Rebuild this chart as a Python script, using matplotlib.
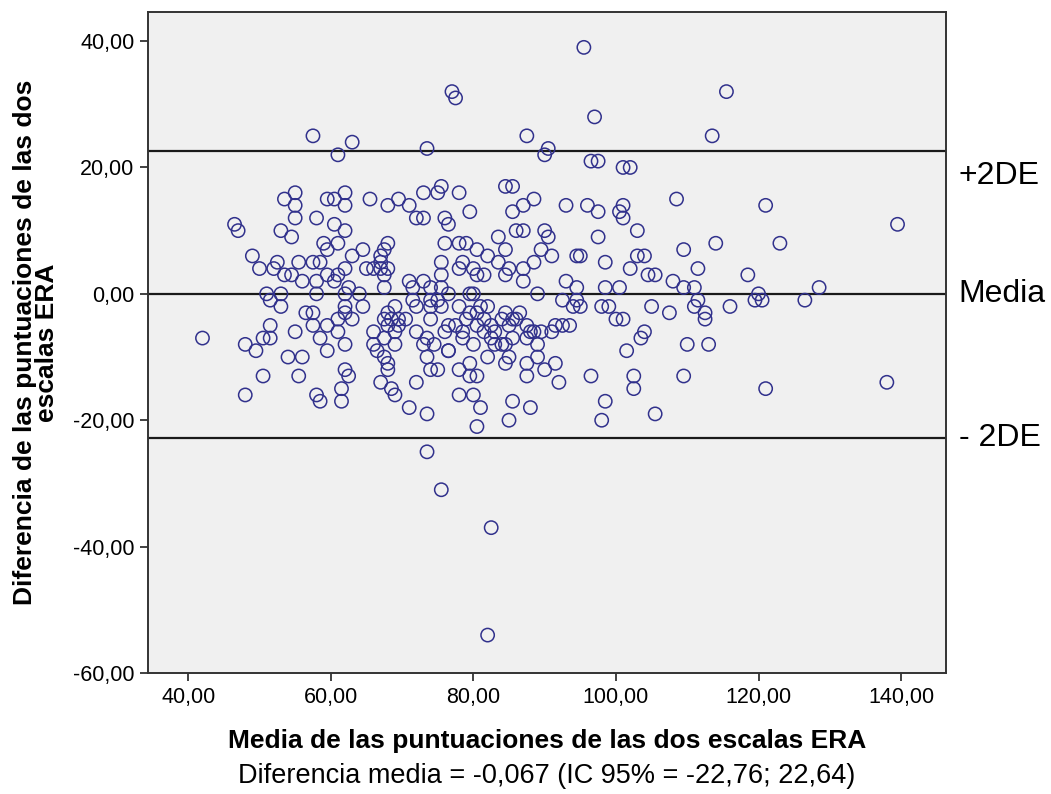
import matplotlib
matplotlib.use("Agg")
import matplotlib.pyplot as plt
import matplotlib.transforms as mtransforms
from matplotlib.ticker import FuncFormatter, FixedLocator

plt.rcParams['font.family'] = ['Liberation Sans', 'DejaVu Sans']

# Mean of the two ERA scales (x) and difference between them (y)
media = [
    61, 55, 53.5, 55, 55, 58, 59.5, 60.5, 62, 62, 65.5, 68, 69.5,
    46.5, 47, 53, 54.5, 60.5, 62, 59, 59.5, 61, 64.5, 63, 68, 67.5, 67,
    49, 50, 52.5, 52, 53.5, 54.5, 55.5, 56, 57.5, 58.5, 58, 59.5, 60.5, 61, 62, 62.5,
    65, 66, 67, 68, 67.5, 67, 67.5,
    51, 53, 51.5, 53, 58, 62, 64, 56.5, 57.5, 57.5, 59.5, 61, 58.5, 59.5, 62, 61, 62, 62,
    63, 64.5, 51.5, 50.5, 51.5, 55, 48, 49.5, 42, 54, 56, 50.5, 55.5, 48, 58, 58.5,
    61.5, 61.5, 62, 62.5, 66, 66, 66.5, 67.5, 68, 68, 67, 68.5, 69, 68, 67.5, 68.5,
    68, 69.5, 70.5, 69.5, 69, 67.5, 69, 69,
    76.5, 79.5, 80, 89, 92.5, 94, 94.5,
    71.5, 72, 74, 74, 74, 75, 75.5,
    72, 73.5, 73, 74.5, 73.5, 74, 75, 72, 71, 73.5, 76.5, 76.5, 76, 76.5, 78,
    79.5, 80.5, 81, 82, 81.5, 82.5, 83, 78.5, 78.5, 80, 82, 79.5, 78, 79.5, 80.5,
    78, 80, 81, 80.5,
    84.5, 85.5, 86.5, 84, 85, 86, 87.5, 88, 84, 84.5, 85.5, 85, 84.5, 87.5, 89, 89,
    87.5, 87.5, 90, 88.5, 89.5, 91, 91.5, 92.5, 91.5, 92, 85.5, 88, 85, 77.5, 79,
    80.5, 81.5, 82.5, 83, 93.5,
    73.5, 90.5, 90, 87.5, 75.5, 75, 73, 78, 71, 72, 73, 76, 76.5, 79.5, 84.5, 85.5,
    85.5, 87, 88.5, 93, 86, 87, 90, 90.5, 83.5, 76, 78, 79, 80.5, 82, 84.5, 83.5,
    75.5, 75.5, 78.5, 78, 80, 80.5, 81.5, 85, 84.5, 87, 88.5, 89.5, 91, 87, 93,
    94.5, 71, 73, 71.5, 74, 75.5,
    113.5, 96.5, 97.5, 101, 102, 108.5, 121, 96, 97.5, 101, 100.5, 101, 103, 97.5,
    95, 98.5, 103, 104, 102, 104.5, 105.5, 109.5, 114, 111.5, 108, 109.5, 111,
    118.5, 120, 94.5, 98.5, 100.5,
    119.5, 120.5, 95, 98, 99, 100, 101, 105, 107.5, 111.5, 111, 112.5, 112.5, 116,
    104, 103.5, 101.5, 110, 113, 96.5, 102.5, 102.5, 109.5, 121, 98.5, 98, 105.5,
    123, 139.5, 128.5, 126.5, 138,
    95.5, 77, 77.5, 115.5, 97, 57.5, 63,
    73.5, 75.5, 82.5, 82,
]

diferencia = [
    22, 16, 15, 14, 12, 12, 15, 15, 16, 14, 15, 14, 15,
    11, 10, 10, 9, 11, 10, 8, 7, 8, 7, 6, 8, 7, 6,
    6, 4, 5, 4, 3, 3, 5, 2, 5, 5, 2, 3, 2, 3, 4, 1,
    4, 4, 4, 4, 1, 5, 3,
    0, 0, -1, -2, 0, 0, 0, -3, -3, -5, -5, -6, -7, -9, -8, -4, -3, -2,
    -4, -2, -5, -7, -7, -6, -8, -9, -7, -10, -10, -13, -13, -16, -16, -17,
    -15, -17, -12, -13, -6, -8, -9, -10, -11, -12, -14, -15, -16, -3, -4, -4,
    -5, -4, -4, -5, -6, -7, -8, -2,
    0, 0, 0, 0, -1, -2, -1,
    -1, -2, -1, -2, -4, -1, -2,
    -6, -7, -8, -8, -10, -12, -12, -14, -18, -19, -9, -9, -6, -5, -2,
    -3, -3, -2, -2, -4, -5, -6, -6, -7, -8, -10, -11, -12, -13, -13,
    -16, -16, -18, -21,
    -3, -4, -3, -4, -5, -4, -5, -6, -8, -8, -7, -10, -11, -7, -8, -10,
    -11, -13, -12, -6, -6, -6, -5, -5, -11, -14, -17, -18, -20, -5, -4,
    -5, -6, -7, -8, -5,
    23, 23, 22, 25, 17, 16, 16, 16, 14, 12, 12, 12, 11, 13, 17, 17,
    13, 14, 15, 14, 10, 10, 10, 9, 9, 8, 8, 8, 7, 6, 7, 5,
    5, 3, 5, 4, 4, 3, 3, 4, 3, 4, 5, 7, 6, 2, 2,
    6, 2, 2, 1, 1, 1,
    25, 21, 21, 20, 20, 15, 14, 14, 13, 14, 13, 12, 10, 9,
    6, 5, 6, 6, 4, 3, 3, 7, 8, 4, 2, 1, 1,
    3, 0, 1, 1, 1,
    -1, -1, -2, -2, -2, -4, -4, -2, -3, -1, -2, -3, -4, -2,
    -6, -7, -9, -8, -8, -13, -13, -15, -13, -15, -17, -20, -19,
    8, 11, 1, -1, -14,
    39, 32, 31, 32, 28, 25, 24,
    -25, -31, -37, -54,
]

# Mean difference and 95% limits of agreement
dif_media = -0.067
lim_inf = -22.76
lim_sup = 22.64

ref_valores = [lim_sup, dif_media, lim_inf]
ref_textos = ['+2DE', 'Media', '- 2DE']
ref_desplaz = [-4.0, 0.0, 0.0]

x_ticks = [40, 60, 80, 100, 120, 140]
y_ticks = [-60, -40, -20, 0, 20, 40]

fig = plt.figure(figsize=(10.51, 7.94), dpi=100)
ax = fig.add_axes([0.1411, 0.1524, 0.7590, 0.8325])
ax.set_facecolor('#F0F0F0')

ax.scatter(media, diferencia, s=92, facecolors='none', edgecolors='#31318C',
           linewidths=1.1, zorder=3)

for v in ref_valores:
    ax.axhline(v, color='#1a1a1a', linewidth=1.6, zorder=2)

trans = mtransforms.blended_transform_factory(ax.transAxes, ax.transData)
for v, t, d in zip(ref_valores, ref_textos, ref_desplaz):
    ax.text(1.016, v + d, t, transform=trans, ha='left', va='center',
            fontsize=23, clip_on=False)

ax.set_xlim(34.4, 146.3)
ax.set_ylim(-60, 44.6)

coma = FuncFormatter(lambda v, p: f"{v:.2f}".replace('.', ','))
ax.xaxis.set_major_locator(FixedLocator(x_ticks))
ax.yaxis.set_major_locator(FixedLocator(y_ticks))
ax.xaxis.set_major_formatter(coma)
ax.yaxis.set_major_formatter(coma)
ax.tick_params(axis='both', direction='out', length=6, width=1.3,
               labelsize=15.5, color='#333333', pad=4)

for sp in ax.spines.values():
    sp.set_linewidth(1.4)
    sp.set_color('#333333')

ax.set_xlabel('Media de las puntuaciones de las dos escalas ERA',
              fontsize=19, fontweight='bold', labelpad=15)
ax.set_ylabel('Diferencia de las puntuaciones de las dos\nescalas ERA',
              fontsize=19, fontweight='bold', labelpad=10, linespacing=0.92)

fig.text(0.5205, 0.023, 'Diferencia media = -0,067 (IC 95% = -22,76; 22,64)',
         ha='center', va='center', fontsize=19.5)

fig.savefig('out.png', dpi=100, facecolor='white')
